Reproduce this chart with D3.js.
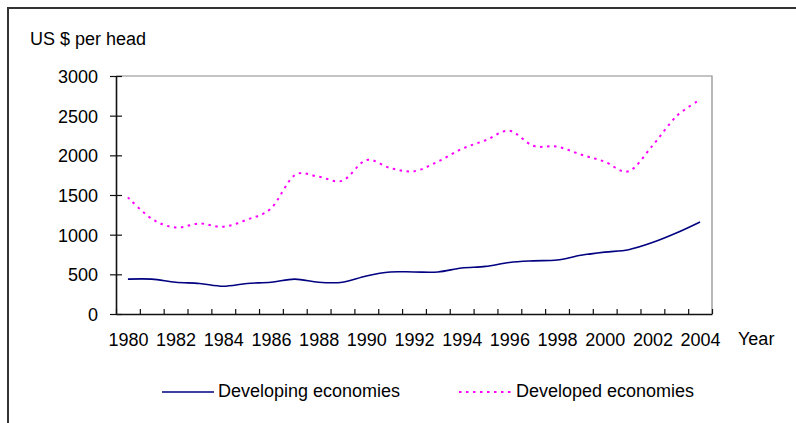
<!DOCTYPE html>
<html>
<head>
<meta charset="utf-8">
<script src="https://cdn.jsdelivr.net/npm/d3@7"></script>
<style>
  html, body { margin: 0; padding: 0; background: #fff; }
  svg { display: block; font-family: "Liberation Sans", Arial, sans-serif; }
</style>
</head>
<body>
<svg id="chart" width="796" height="423"></svg>
<script>
// Consumer spending per head, 1980-2004
const years = d3.range(1980, 2005);
const developing = [440, 440, 400, 385, 350, 385, 400, 440, 400, 400,
                    480, 530, 530, 530, 580, 600, 650, 670, 680, 740,
                    780, 810, 900, 1020, 1160];
const developed = [1470, 1200, 1090, 1140, 1100, 1190, 1330, 1750, 1730, 1680,
                   1940, 1840, 1800, 1920, 2080, 2190, 2310, 2120, 2110, 2010,
                   1920, 1800, 2120, 2490, 2700];
const yTicks = [0, 500, 1000, 1500, 2000, 2500, 3000];
const xLabels = d3.range(1980, 2005, 2);
const seriesNames = ["Developing economies", "Developed economies"];

const svg = d3.select("#chart");
const fontSize = 18;

const plot = { left: 116, right: 712, top: 76, bottom: 314 };

const x = d3.scaleLinear().domain([1979.5, 2004.5]).range([plot.left, plot.right]);
const y = d3.scaleLinear().domain([0, 3000]).range([plot.bottom, plot.top]);

// outer frame (top and left edges)
svg.append("path")
  .attr("d", "M8,423V8H796")
  .attr("fill", "none")
  .attr("stroke", "#333")
  .attr("stroke-width", 2);

// unit label
svg.append("text")
  .attr("x", 30).attr("y", 45)
  .attr("font-size", fontSize)
  .attr("fill", "#000")
  .text("US $ per head");

// plot border (top and right in grey)
svg.append("path")
  .attr("d", `M${plot.left},${plot.top}H${plot.right}V${plot.bottom}`)
  .attr("fill", "none")
  .attr("stroke", "#8a8a8a")
  .attr("stroke-width", 1.2);

// y axis: labelled ticks outside, plain ticks inside
const yAxis = svg.append("g")
  .attr("transform", `translate(${plot.left},0)`)
  .call(d3.axisLeft(y).tickValues(yTicks).tickSize(6).tickPadding(12)
    .tickSizeOuter(0).tickFormat(d3.format("d")));
svg.append("g")
  .attr("transform", `translate(${plot.left},0)`)
  .call(d3.axisLeft(y).tickValues(yTicks).tickSize(-6).tickFormat("").tickSizeOuter(0))
  .call(g => g.select(".domain").remove());
yAxis.selectAll("text")
  .attr("font-size", fontSize)
  .attr("font-family", "Liberation Sans, Arial, sans-serif")
  .attr("fill", "#000")
  .attr("dy", "0.36em");

// x axis: inward ticks at every year boundary
const boundaries = d3.range(1979.5, 2005, 1);
const xAxis = svg.append("g")
  .attr("transform", `translate(0,${plot.bottom})`)
  .call(d3.axisBottom(x).tickValues(boundaries).tickSize(-5).tickFormat("").tickSizeOuter(0));

// x labels every other year
const xLab = svg.append("g")
  .attr("transform", `translate(0,${plot.bottom})`)
  .call(d3.axisBottom(x).tickValues(xLabels).tickSize(0).tickPadding(0).tickFormat(d3.format("d")))
  .call(g => g.select(".domain").remove());
xLab.selectAll("text")
  .attr("font-size", fontSize)
  .attr("font-family", "Liberation Sans, Arial, sans-serif")
  .attr("fill", "#000")
  .attr("y", 32)
  .attr("dy", 0);

[yAxis, xAxis].forEach(g => {
  g.selectAll(".domain").attr("stroke", "#111").attr("stroke-width", 1.6);
});
svg.selectAll(".tick line").attr("stroke", "#111").attr("stroke-width", 1.2);

svg.append("text")
  .attr("x", 738).attr("y", 345)
  .attr("font-size", fontSize)
  .attr("fill", "#000")
  .text("Year");

// series lines
const line = d3.line()
  .x((d, i) => x(years[i]))
  .y(d => y(d))
  .curve(d3.curveCatmullRom.alpha(0));

svg.append("path")
  .datum(developing)
  .attr("d", line)
  .attr("fill", "none")
  .attr("stroke", "#000080")
  .attr("stroke-width", 1.6);

svg.append("path")
  .datum(developed)
  .attr("d", line)
  .attr("fill", "none")
  .attr("stroke", "#ff00ff")
  .attr("stroke-width", 2)
  .attr("stroke-dasharray", "2.5 4.5");

// legend
const legend = [
  { name: seriesNames[0], x1: 162, x2: 214, tx: 218, color: "#000080", dash: null, w: 1.6 },
  { name: seriesNames[1], x1: 459, x2: 512, tx: 516, color: "#ff00ff", dash: "2.5 4.5", w: 2 }
];
const lg = svg.append("g");
legend.forEach(l => {
  lg.append("line")
    .attr("x1", l.x1).attr("x2", l.x2)
    .attr("y1", 392).attr("y2", 392)
    .attr("stroke", l.color)
    .attr("stroke-width", l.w)
    .attr("stroke-dasharray", l.dash);
  lg.append("text")
    .attr("x", l.tx).attr("y", 397)
    .attr("font-size", fontSize)
    .attr("fill", "#000")
    .text(l.name);
});
</script>
</body>
</html>
